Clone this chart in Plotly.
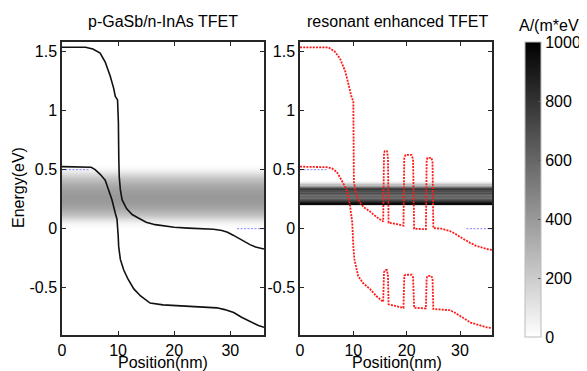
import plotly.graph_objects as go

# ---------------- data ----------------
# Left panel (p-GaSb/n-InAs TFET): band edges (nm, eV)
left_cb_x = [0, 4.2, 5.5, 6.8, 7.7, 8.6, 9.2, 9.5, 9.9, 10.05, 10.12, 10.2, 10.4, 10.7, 11.5, 12.5, 13.6, 15.0, 16.6, 18.5, 20.0, 22.5, 25.0, 27.0, 28.5, 29.5, 30.5, 31.4, 32.5, 33.5, 34.5, 35.5, 36.0]
left_cb_e = [1.535, 1.535, 1.52, 1.487, 1.41, 1.29, 1.19, 1.12, 1.09, 0.9, 0.6, 0.44, 0.33, 0.245, 0.17, 0.12, 0.09, 0.055, 0.034, 0.02, 0.012, 0.005, 0.0, -0.005, -0.015, -0.03, -0.055, -0.08, -0.11, -0.135, -0.155, -0.168, -0.172]
left_vb_x = [0, 4.5, 5.2, 5.9, 6.8, 7.7, 8.3, 8.9, 9.5, 9.8, 10.0, 10.1, 10.4, 11.0, 11.8, 12.8, 14.0, 15.7, 18.0, 21.7, 25.0, 27.6, 29.0, 30.6, 32.0, 33.6, 35.0, 36.0]
left_vb_e = [0.525, 0.525, 0.52, 0.50, 0.46, 0.41, 0.33, 0.245, 0.13, 0.08, -0.05, -0.15, -0.26, -0.35, -0.43, -0.51, -0.57, -0.63, -0.645, -0.655, -0.665, -0.67, -0.685, -0.71, -0.75, -0.79, -0.82, -0.835]

# Right panel (resonant enhanced TFET)
right_cb_x = [0, 5.3, 6.5, 7.5, 8.5, 9.2, 9.7, 10.0, 10.05, 10.1, 10.4, 10.8, 11.25, 12.0, 13.1, 14.3, 15.6,
              15.75, 15.9, 16.3, 16.5, 16.6, 18.0, 19.4,
              19.55, 19.8, 20.9, 21.2, 21.4, 23.6,
              23.75, 23.9, 24.6, 24.85, 25.0, 26.5, 28.1, 29.0, 30.0, 31.0, 31.9, 33.0, 34.0, 35.0, 36.0]
right_cb_e = [1.535, 1.535, 1.50, 1.44, 1.33, 1.20, 1.11, 1.08, 0.6, 0.40, 0.32, 0.26, 0.22, 0.18, 0.146, 0.10, 0.06,
              0.64, 0.657, 0.657, 0.60, 0.05, 0.04, 0.025,
              0.60, 0.624, 0.624, 0.59, 0.0, -0.005,
              0.58, 0.60, 0.60, 0.57, 0.005, 0.0, -0.02, -0.04, -0.07, -0.10, -0.12, -0.145, -0.16, -0.172, -0.18]
right_vb_x = [0, 4.5, 5.2, 6.0, 6.9, 7.8, 8.75, 9.4, 9.8, 10.0, 10.2, 10.9, 11.8, 13.1, 14.3, 15.6,
              15.75, 15.95, 16.3, 16.5, 16.6, 18.0, 19.4,
              19.55, 19.8, 20.9, 21.2, 21.4, 23.6,
              23.75, 23.9, 24.6, 24.85, 25.0, 26.5, 28.1, 29.0, 30.0, 31.0, 32.0, 33.1, 34.0, 35.0, 36.0]
right_vb_e = [0.525, 0.525, 0.52, 0.51, 0.48, 0.41, 0.33, 0.19, 0.05, -0.15, -0.26, -0.40, -0.46, -0.51, -0.57, -0.62,
              -0.37, -0.35, -0.35, -0.40, -0.64, -0.655, -0.67,
              -0.40, -0.39, -0.39, -0.41, -0.67, -0.675,
              -0.42, -0.40, -0.40, -0.42, -0.68, -0.685, -0.69, -0.71, -0.74, -0.77, -0.795, -0.81, -0.825, -0.835, -0.84]

# Fermi levels (source / drain)
fermi_src_x = [0, 5]
fermi_src_e = [0.5, 0.5]
fermi_drn_x = [31.2, 36]
fermi_drn_e = [0.0, 0.0]

# Spectral current density maps, A/(m*eV)
map_x = [0, 36]
left_map_e = [0.0, 0.025, 0.05, 0.075, 0.1, 0.125, 0.15, 0.175, 0.2, 0.225, 0.25, 0.275, 0.3, 0.325, 0.35, 0.375, 0.4, 0.425, 0.45, 0.475, 0.5, 0.525, 0.55]
left_map_val = [0, 10, 40, 100, 180, 250, 300, 340, 370, 390, 400, 400, 390, 375, 350, 320, 280, 230, 170, 100, 40, 10, 0]
right_map_e = [0.20, 0.21, 0.22, 0.23, 0.24, 0.25, 0.26, 0.27, 0.28, 0.29, 0.30, 0.31, 0.32, 0.33, 0.34, 0.35, 0.36, 0.37, 0.38, 0.39, 0.40]
right_map_val = [150, 960, 880, 800, 720, 660, 580, 620, 560, 620, 700, 640, 700, 780, 720, 550, 380, 250, 150, 80, 30]

x_ticks = [0, 10, 20, 30]
x_tick_labels = ["0", "10", "20", "30"]
y_ticks = [-0.5, 0, 0.5, 1, 1.5]
y_tick_labels = ["-0.5", "0", "0.5", "1", "1.5"]
cb_ticks = [0, 200, 400, 600, 800, 1000]
cb_tick_labels = ["0", "200", "400", "600", "800", "1000"]

titles = ["p-GaSb/n-InAs TFET", "resonant enhanced TFET"]
x_title = "Position(nm)"
y_title = "Energy(eV)"
cb_title = "A/(m*eV)"

# ---------------- figure ----------------
OFF = 8  # page body margin around the plot div
W, H = 587 - OFF, 371 - OFF
FONT = "Liberation Sans, Arial, sans-serif"
FS = 16

def px(p):  # page x pixel -> paper fraction
    return (p - OFF) / W

def py(p):  # page y pixel (from top) -> paper fraction
    return (H - (p - OFF)) / H

fig = go.Figure()

def z_rows(vals):
    return [[v, v] for v in vals]

fig.add_trace(go.Heatmap(x=map_x, y=left_map_e, z=z_rows(left_map_val), coloraxis="coloraxis",
                         zsmooth="best", xaxis="x", yaxis="y", hoverinfo="skip"))
fig.add_trace(go.Heatmap(x=map_x, y=right_map_e, z=z_rows(right_map_val), coloraxis="coloraxis",
                         zsmooth=False, xaxis="x2", yaxis="y2", hoverinfo="skip"))

blue = dict(color="#9a9aff", width=1.2, dash="2px,1.5px")
for xa, ya in [("x", "y"), ("x2", "y2")]:
    fig.add_trace(go.Scatter(x=fermi_src_x, y=fermi_src_e, mode="lines", line=blue, xaxis=xa, yaxis=ya, showlegend=False))
    fig.add_trace(go.Scatter(x=fermi_drn_x, y=fermi_drn_e, mode="lines", line=blue, xaxis=xa, yaxis=ya, showlegend=False))

black = dict(color="#111111", width=1.6)
fig.add_trace(go.Scatter(x=left_cb_x, y=left_cb_e, mode="lines", line=black, xaxis="x", yaxis="y", showlegend=False))
fig.add_trace(go.Scatter(x=left_vb_x, y=left_vb_e, mode="lines", line=black, xaxis="x", yaxis="y", showlegend=False))

red = dict(color="#ff1a1a", width=1.8, dash="2px,1.2px")
fig.add_trace(go.Scatter(x=right_cb_x, y=right_cb_e, mode="lines", line=red, xaxis="x2", yaxis="y2", showlegend=False))
fig.add_trace(go.Scatter(x=right_vb_x, y=right_vb_e, mode="lines", line=red, xaxis="x2", yaxis="y2", showlegend=False))

ax_common = dict(showline=True, linecolor="#262626", linewidth=1.5, mirror="ticks", ticks="inside",
                 ticklen=4, tickcolor="#262626", showgrid=False, zeroline=False, automargin=False,
                 tickfont=dict(family=FONT, size=FS, color="#000"))

left_dom = [px(62), px(264)]
right_dom = [px(300), px(492)]
y_dom = [py(335), py(42)]
y_range = [-0.9, 1.58]

fig.update_layout(
    width=W, height=H, margin=dict(l=0, r=0, t=0, b=0, autoexpand=False),
    paper_bgcolor="white", plot_bgcolor="white", showlegend=False,
    font=dict(family=FONT, size=FS, color="#000"),
    xaxis=dict(domain=left_dom, range=[0, 36], tickvals=x_ticks, ticktext=x_tick_labels, anchor="y", **ax_common),
    yaxis=dict(domain=y_dom, range=y_range, tickvals=y_ticks, ticktext=y_tick_labels, anchor="x", **ax_common),
    xaxis2=dict(domain=right_dom, range=[0, 36], tickvals=x_ticks, ticktext=x_tick_labels, anchor="y2", **ax_common),
    yaxis2=dict(domain=y_dom, range=y_range, tickvals=y_ticks, ticktext=y_tick_labels, anchor="x2", **ax_common),
    coloraxis=dict(
        cmin=0, cmax=1000,
        colorscale=[[0, "#ffffff"], [1, "#000000"]],
        colorbar=dict(x=px(525), xanchor="left", xpad=0, thickness=16,
                      lenmode="pixels", len=295, y=py(337), yanchor="bottom", ypad=0,
                      outlinecolor="#bbbbbb", outlinewidth=1,
                      tickvals=cb_ticks, ticktext=cb_tick_labels, ticks="inside", ticklen=3,
                      tickcolor="#555", tickfont=dict(family=FONT, size=FS, color="#000")),
    ),
)

ann = []
ann.append(dict(text=titles[0], x=px(163), y=py(22), xref="paper", yref="paper",
                showarrow=False, xanchor="center", yanchor="middle", font=dict(family=FONT, size=FS)))
ann.append(dict(text=titles[1], x=px(397), y=py(22), xref="paper", yref="paper",
                showarrow=False, xanchor="center", yanchor="middle", font=dict(family=FONT, size=FS)))
ann.append(dict(text=cb_title, x=px(586), y=py(25), xref="paper", yref="paper",
                showarrow=False, xanchor="right", yanchor="middle", font=dict(family=FONT, size=FS)))
for cx in [163, 397]:
    ann.append(dict(text=x_title, x=px(cx), y=py(362), xref="paper", yref="paper",
                    showarrow=False, xanchor="center", yanchor="middle", font=dict(family=FONT, size=FS)))
ann.append(dict(text=y_title, x=px(18), y=py(188), xref="paper", yref="paper", textangle=-90,
                showarrow=False, xanchor="center", yanchor="middle", font=dict(family=FONT, size=FS)))
fig.update_layout(annotations=ann)

fig.write_html("out.html")
